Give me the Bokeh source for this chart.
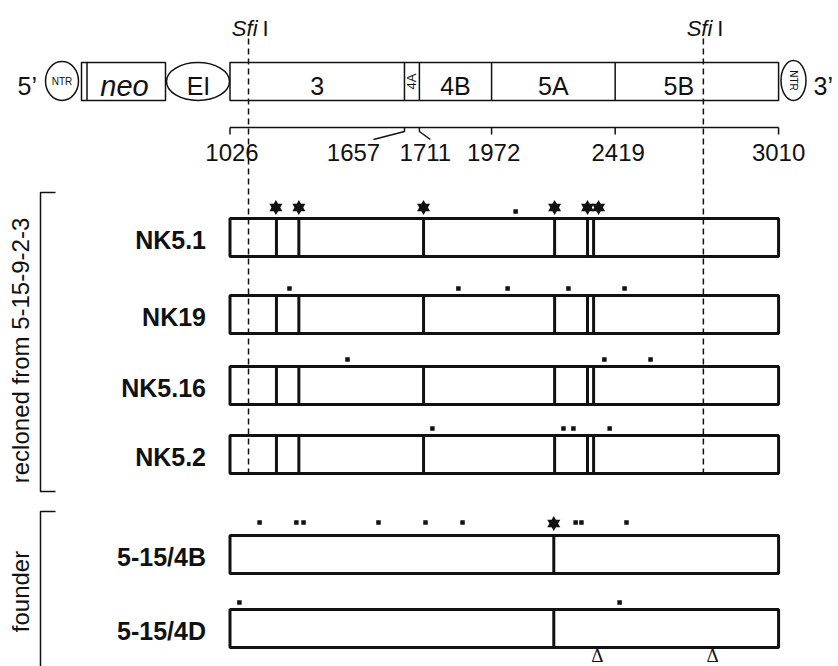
import math
from bokeh.plotting import figure
from bokeh.models import Range1d
from bokeh.core.properties import value
from bokeh.embed import file_html
from bokeh.resources import INLINE

# ---------------- data: amino-acid positions in the HCV polyprotein ----------------
region_names = ["3", "4A", "4B", "5A", "5B"]
region_starts = [1026, 1657, 1711, 1972, 2419]
region_ends = [1657, 1711, 1972, 2419, 3010]
scale_ticks = [1026, 1657, 1711, 1972, 2419, 3010]
scale_tick_labels = ["1026", "1657", "1711", "1972", "2419", "3010"]
sfi_sites = [1093, 2738]

clone_names = ["NK5.1", "NK19", "NK5.16", "NK5.2", "5-15/4B", "5-15/4D"]
recloned_junctions = [1194, 1275, 1726, 2200, 2319, 2341]
founder_junctions = [2197]

nk5_1_dots = [2059]
nk5_1_stars = [1192, 1275, 1726, 2200, 2319, 2359]
nk19_dots = [1241, 1852, 2030, 2250, 2453]
nk5_16_dots = [1451, 2380, 2547]
nk5_2_dots = [1758, 2232, 2268, 2399]
f4b_dots = [1133, 1266, 1292, 1563, 1733, 1867, 2276, 2297, 2460]
f4b_stars = [2197]
f4d_dots = [1060, 2435]
deletions = [2355, 2771]

group_labels = ["recloned from 5-15-9-2-3", "founder"]

# ---------------- layout ----------------
AA_PER_PX = 3.6166
W, H = 838, 666


def px(x):
    """reference-pixel x -> polyprotein coordinate (used for decoration only)"""
    return 1026 + (x - 229.5) * AA_PER_PX


FONT = value("Liberation Sans")
BLACK = "#111111"

row_tops = [218, 295, 366, 435, 535, 609]
BOX_H = 38
dot_gap = [7, 7, 7, 7, 13, 7]
star_gap = [11, 11, 11, 11, 12, 11]
row_dots = [nk5_1_dots, nk19_dots, nk5_16_dots, nk5_2_dots, f4b_dots, f4d_dots]
row_stars = [nk5_1_stars, [], [], [], f4b_stars, []]
row_junctions = [recloned_junctions] * 4 + [founder_junctions] * 2

p = figure(width=W, height=H, x_range=Range1d(px(0), px(W)),
           y_range=Range1d(H, 0), output_backend="svg", toolbar_location=None,
           x_axis_type=None, y_axis_type=None, min_border=0)
p.outline_line_color = None
p.background_fill_color = "white"
p.border_fill_color = "white"

# ---------------- top construct ----------------
TOP_Y0, TOP_Y1 = 62, 100
top_mid = (TOP_Y0 + TOP_Y1) / 2
LBL_Y = 85
p.quad(left=[region_starts[0]], right=[region_ends[-1]], top=[TOP_Y0], bottom=[TOP_Y1],
       fill_color="white", line_color=BLACK, line_width=1.5)
p.segment(x0=region_starts[1:], x1=region_starts[1:], y0=TOP_Y0, y1=TOP_Y1,
          line_color=BLACK, line_width=1.5)

# neo box with double left edge
p.quad(left=[px(81)], right=[px(165)], top=[TOP_Y0], bottom=[TOP_Y1],
       fill_color="white", line_color=BLACK, line_width=1.5)
p.segment(x0=[px(86.5)], x1=[px(86.5)], y0=TOP_Y0, y1=TOP_Y1, line_color=BLACK, line_width=1.5)
p.text(x=[px(124)], y=[LBL_Y], text=["neo"], text_font=FONT, text_font_style="italic",
       text_font_size="29px", text_align="center", text_baseline="middle", text_color=BLACK)

# EI ellipse and NTR ellipses
p.ellipse(x=[px(197.5)], y=[top_mid], width=[63], height=[38], width_units="screen",
          height_units="screen", fill_color="white", line_color=BLACK, line_width=1.5)
p.text(x=[px(198)], y=[LBL_Y], text=["EI"], text_font=FONT, text_font_size="25px",
       text_align="center", text_baseline="middle", text_color=BLACK)
p.ellipse(x=[px(61.5)], y=[80.5], width=[33], height=[39], width_units="screen",
          height_units="screen", fill_color="white", line_color=BLACK, line_width=1.5)
p.text(x=[px(61.5)], y=[81], text=["NTR"], text_font=FONT, text_font_size="10px",
       text_align="center", text_baseline="middle", text_color=BLACK)
p.ellipse(x=[px(793)], y=[80], width=[25], height=[40], width_units="screen",
          height_units="screen", fill_color="white", line_color=BLACK, line_width=1.5)
p.text(x=[px(793)], y=[80], text=["NTR"], text_font=FONT, text_font_size="10px",
       angle=-math.pi / 2, text_align="center", text_baseline="middle", text_color=BLACK)
p.text(x=[px(17)], y=[LBL_Y], text=["5\u2019"], text_font=FONT, text_font_size="25px",
       text_align="left", text_baseline="middle", text_color=BLACK)
p.text(x=[px(813)], y=[LBL_Y], text=["3\u2019"], text_font=FONT, text_font_size="25px",
       text_align="left", text_baseline="middle", text_color=BLACK)

# region labels
label_shift = [0, 0, 0, 0, -18]
for name, s, e, dx in zip(region_names, region_starts, region_ends, label_shift):
    mid = (s + e) / 2
    if name == "4A":
        p.text(x=[mid], y=[top_mid], text=[name], text_font=FONT, text_font_size="13px",
               angle=math.pi / 2, text_align="center", text_baseline="middle", text_color=BLACK)
    else:
        p.text(x=[mid], y=[LBL_Y], text=[name], text_font=FONT, text_font_size="25px",
               x_offset=dx, text_align="center", text_baseline="middle", text_color=BLACK)

# ---------------- scale bar ----------------
SCALE_Y = 127
p.segment(x0=[scale_ticks[0]], x1=[scale_ticks[-1]], y0=SCALE_Y, y1=SCALE_Y,
          line_color=BLACK, line_width=1.5)
tick_kink = [0, -31, 11, 0, 0, 0]
label_dx = [2, -51, 6, 2, 3, 0]
for t, k in zip(scale_ticks, tick_kink):
    if k == 0:
        p.segment(x0=[t], x1=[t], y0=SCALE_Y, y1=SCALE_Y + 7, line_color=BLACK, line_width=1.5)
    else:
        p.line(x=[t, t, t + k * AA_PER_PX], y=[SCALE_Y, SCALE_Y + 4, SCALE_Y + 12],
               line_color=BLACK, line_width=1.5)
p.text(x=scale_ticks, y=[152] * len(scale_ticks), text=scale_tick_labels, x_offset=label_dx,
       text_font=FONT, text_font_size="24px", text_align="center",
       text_baseline="middle", text_color=BLACK)

# ---------------- clone rows ----------------
for i, name in enumerate(clone_names):
    top = row_tops[i]
    bot = top + BOX_H
    p.quad(left=[region_starts[0]], right=[region_ends[-1]], top=[top], bottom=[bot],
           fill_color="white", line_color=BLACK, line_width=3)

# Sfi I sites (dashed) drawn over the boxes
p.segment(x0=sfi_sites, x1=sfi_sites, y0=38, y1=472, line_color=BLACK, line_width=1.5,
          line_dash="6 4")
p.text(x=sfi_sites, y=[27.5, 27.5], text=["Sfi", "Sfi"], x_offset=9, text_font=FONT,
       text_font_style="italic", text_font_size="22px", text_align="right",
       text_baseline="middle", text_color=BLACK)
p.text(x=sfi_sites, y=[27.5, 27.5], text=["I", "I"], x_offset=14, text_font=FONT,
       text_font_size="22px", text_align="left", text_baseline="middle", text_color=BLACK)

for i, name in enumerate(clone_names):
    top = row_tops[i]
    bot = top + BOX_H
    j = row_junctions[i]
    p.segment(x0=j, x1=j, y0=top, y1=bot, line_color=BLACK, line_width=3)
    d = row_dots[i]
    if d:
        p.scatter(x=d, y=[top - dot_gap[i]] * len(d), marker="square", size=4.5,
                  fill_color=BLACK, line_color=None)
    s = row_stars[i]
    if s:
        yy = [top - star_gap[i]] * len(s)
        p.scatter(x=s, y=yy, marker="triangle", size=13, fill_color=BLACK, line_color=None)
        p.scatter(x=s, y=yy, marker="inverted_triangle", size=13, fill_color=BLACK,
                  line_color=None)
    p.text(x=[region_starts[0]], y=[top + BOX_H / 2 + 2], text=[name], x_offset=-24,
           text_font=FONT, text_font_style="bold", text_font_size="25px",
           text_align="right", text_baseline="middle", text_color=BLACK)

# deletions
p.text(x=deletions, y=[655] * len(deletions), text=["\u0394"] * len(deletions),
       text_font=value("Liberation Serif"), text_font_size="19px", text_align="center",
       text_baseline="middle", text_color=BLACK)

# ---------------- group brackets ----------------
BX0, BX1 = px(40), px(55)
p.line(x=[BX1, BX0, BX0, BX1], y=[192, 192, 491, 491], line_color=BLACK, line_width=1.5)
p.line(x=[BX1, BX0, BX0], y=[511, 511, H], line_color=BLACK, line_width=1.5)
p.text(x=[px(20), px(20)], y=[350, 591], text=group_labels, angle=math.pi / 2,
       text_font=FONT, text_font_size="24px", text_align="center",
       text_baseline="middle", text_color=BLACK)

open("out.html", "w").write(file_html(p, INLINE))
